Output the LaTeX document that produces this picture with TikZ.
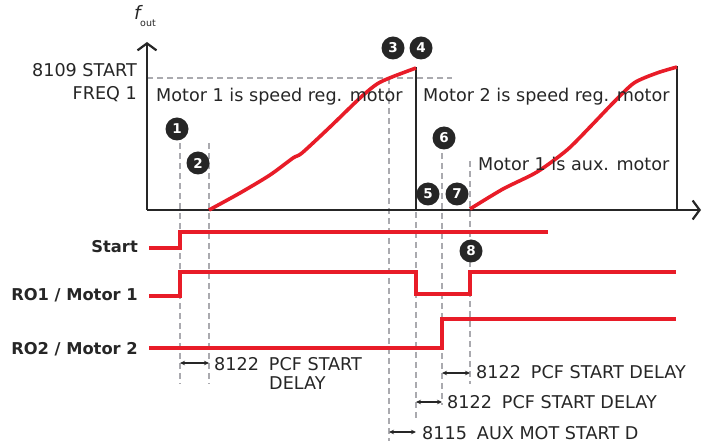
\documentclass[tikz,border=0pt]{standalone}
\usepackage{fontspec}
\setmainfont{DejaVu Sans}
\usetikzlibrary{arrows.meta}
\definecolor{sigred}{RGB}{232,28,40}
\definecolor{axgray}{RGB}{38,38,38}
\definecolor{dashgray}{RGB}{170,170,175}
\tikzset{
  axisline/.style={draw=axgray, line width=2.2pt},
  guide/.style={draw=dashgray, line width=1.3pt, dash pattern=on 6pt off 4pt},
  signal/.style={draw=sigred, line width=3.6pt},
  curve/.style={draw=sigred, line width=3.6pt, line join=round},
  marker/.style={circle, fill=axgray, text=white, minimum size=23pt, inner sep=0pt, font=\bfseries\fontsize{13.5}{13.5}\selectfont},
  lbl/.style={inner sep=0pt, text=axgray, font=\fontsize{17.6}{19}\selectfont},
  blbl/.style={inner sep=0pt, text=axgray, font=\bfseries\fontsize{16.3}{19}\selectfont},
  dim/.style={draw=axgray, line width=1.1pt, {Stealth[length=5pt,width=4.5pt]}-{Stealth[length=5pt,width=4.5pt]}},
}
\begin{document}
\begin{tikzpicture}[x=1pt,y=-1pt]
\useasboundingbox (0,0) rectangle (704,443);
% coordinates
\coordinate (o) at (147,210);
\coordinate (ytop) at (147,42);
\coordinate (xend) at (701,210);
% guides
\coordinate (h1) at (147,78); \coordinate (h2) at (452,78);
\draw[guide] (h1) -- (h2);
\coordinate (g1t) at (180,143); \coordinate (g1b) at (180,384);
\coordinate (g2t) at (209,143); \coordinate (g2b) at (209,384);
\coordinate (g3t) at (389,78);  \coordinate (g3b) at (389,441);
\coordinate (g4t) at (416,212); \coordinate (g4b) at (416,420);
\coordinate (g6t) at (442,153); \coordinate (g6b) at (442,405);
\coordinate (g7t) at (470,161); \coordinate (g7b) at (470,384);
\foreach \g in {1,2,3,4,6,7} {\draw[guide] (g\g t) -- (g\g b);}
% axes
\draw[axisline, -{Straight Barb[length=7pt,width=19pt]}] (o) -- (ytop);
\draw[axisline, -{Straight Barb[length=7pt,width=19pt]}] (o) -- (xend);
\coordinate (v1t) at (416,67); \coordinate (v1b) at (416,210);
\coordinate (v2t) at (677,66); \coordinate (v2b) at (677,210);
\draw[axisline] (v1b) -- (v1t);
\draw[axisline] (v2b) -- (v2t);
% curves
\draw[curve] plot[smooth, tension=0.45] coordinates {(209,210) (240,193) (270,175) (293,158) (302,153) (330,127) (360,98) (377,84) (392,77) (416,68)};
\draw[curve] plot[smooth, tension=0.45] coordinates {(470,209) (503,189) (537,172) (567,150) (590,127) (613,103) (634,83) (657,73) (677,67)};
% texts top
\node[anchor=base west, inner sep=0pt, text=axgray, font=\itshape\fontsize{18.5}{18.5}\selectfont] (fo) at (134,20) {f};
\node[anchor=base west, inner sep=0pt, text=axgray, font=\fontsize{9.5}{9.5}\selectfont] (fs) at (140,27) {out};
\node[lbl, anchor=base east] (sf1) at (137,77) {8109 START};
\node[lbl, anchor=base east] (sf2) at (137,100) {FREQ 1};
\node[lbl, anchor=base west] (t1) at (156,102) {Motor 1 is speed reg. motor};
\node[lbl, anchor=base west] (t2) at (423,102) {Motor 2 is speed reg. motor};
\node[lbl, anchor=base west] (t3) at (478,171) {Motor 1 is aux. motor};
% markers
\node[marker] (m1) at (177,129) {1};
\node[marker] (m2) at (198,163) {2};
\node[marker] (m3) at (393,48) {3};
\node[marker] (m4) at (421,48) {4};
\node[marker] (m5) at (428,194) {5};
\node[marker] (m6) at (444,138) {6};
\node[marker] (m7) at (457,194) {7};
\node[marker] (m8) at (471,251) {8};
% signal labels
\node[blbl, anchor=base east] (ls) at (138,253) {Start};
\node[blbl, anchor=base east] (l1) at (138,301) {RO1 / Motor 1};
\node[blbl, anchor=base east] (l2) at (138,355) {RO2 / Motor 2};
% signals
\draw[signal] (149,248) -- (180,248) -- (180,232) -- (548,232);
\draw[signal] (149,296) -- (180,296) -- (180,272) -- (416,272) -- (416,294) -- (470,294) -- (470,272) -- (676,272);
\draw[signal] (149,348) -- (442,348) -- (442,319) -- (676,319);
% dimensions
\coordinate (a1l) at (180,363); \coordinate (a1r) at (209,363);
\coordinate (a2l) at (442,373); \coordinate (a2r) at (470,373);
\coordinate (a3l) at (416,402); \coordinate (a3r) at (442,402);
\coordinate (a4l) at (389,432); \coordinate (a4r) at (416,432);
\draw[dim] (a1l) -- (a1r);
\draw[dim] (a2l) -- (a2r);
\draw[dim] (a3l) -- (a3r);
\draw[dim] (a4l) -- (a4r);
\node[lbl, anchor=base west] (d1a) at (214,371) {8122\hspace{10pt}PCF START};
\node[lbl, anchor=base west] (d1b) at (269,389) {DELAY};
\node[lbl, anchor=base west] (d2) at (476,379) {8122\hspace{10pt}PCF START DELAY};
\node[lbl, anchor=base west] (d3) at (447,409) {8122\hspace{10pt}PCF START DELAY};
\node[lbl, anchor=base west] (d4) at (422,439) {8115\hspace{10pt}AUX MOT START D};
\end{tikzpicture}
\end{document}
